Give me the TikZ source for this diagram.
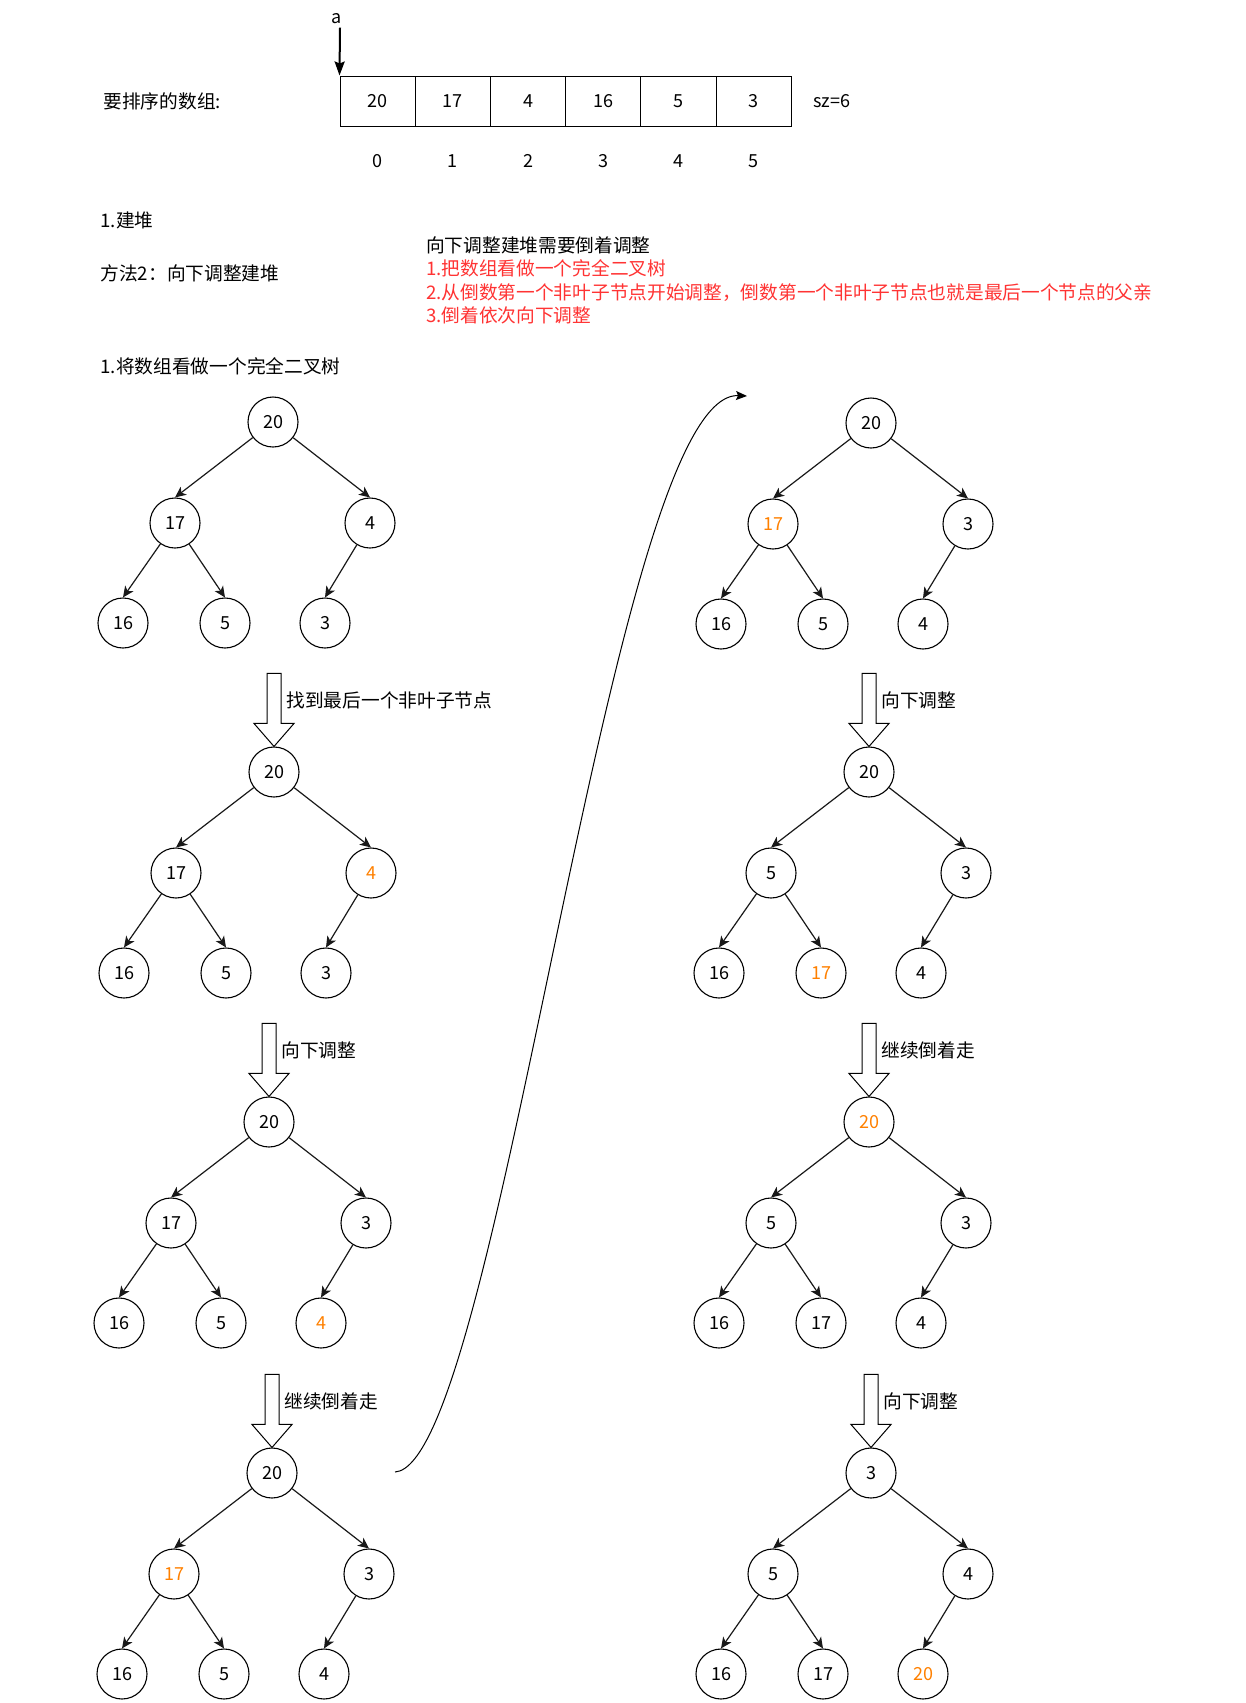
\documentclass[tikz,border=0pt]{standalone}
\usepackage{fontspec}
\setmainfont{Noto Sans CJK SC}
\usepackage{tikz}
\usetikzlibrary{arrows.meta}
\usepackage{xcolor}
\definecolor{hlorange}{HTML}{FF8000}
\definecolor{notered}{HTML}{FF3333}
\newcommand{\hl}[1]{\textcolor{hlorange}{#1}}

\begin{document}
\begin{tikzpicture}[x=1pt, y=-1pt,
    every node/.style={font=\fontsize{18}{22}\selectfont},
    caption/.style={anchor=west, font=\fontsize{18.7}{23}\selectfont},
    heapnode/.style={circle, draw, line width=1.1pt, minimum size=50pt, inner sep=0pt},
    cell/.style={rectangle, draw, line width=1pt, minimum width=75.2pt, minimum height=50pt, inner sep=0pt},
    treeedge/.style={draw=black!90, line width=1.2pt, -{Stealth[length=11pt, width=10pt, inset=3pt]}},
    blockarrow/.style={draw, line width=1pt, fill=white}]
    \useasboundingbox (0,0) rectangle (1246,1703);

    % tablica
    \node[caption] (title) at (100, 101) {要排序的数组:};
    \foreach \v [count=\i from 0] in {20,17,4,16,5,3} {
        \node[cell] (cell\i) at (377.6+75.2*\i, 101) {\v};
        \node (idx\i) at (377.6+75.2*\i, 161) {\i};
    }
    \node[anchor=west] (size) at (810, 101) {sz=6};
    \node (ptr) at (337, 19) {a};
    \draw[line width=2pt, -{Stealth[length=14pt, width=10pt, inset=2pt]}] (ptr.south) ++(3,0) -- (cell0.north west);

    % opisy
    \node[caption] (step) at (97, 220) {1.建堆};
    \node[caption] (method) at (97, 273) {方法2：向下调整建堆};
    \node[anchor=north west, inner sep=0pt, align=left, font=\fontsize{18.7}{23.5}\selectfont] (notes) at (426, 236)
        {向下调整建堆需要倒着调整\\
         \textcolor{notered}{1.把数组看做一个完全二叉树}\\
         \textcolor{notered}{2.从倒数第一个非叶子节点开始调整，倒数第一个非叶子节点也就是最后一个节点的父亲}\\
         \textcolor{notered}{3.倒着依次向下调整}};
    \node[caption] (first) at (97, 366) {1.将数组看做一个完全二叉树};

    % drzewa
    \foreach \t/\x/\y/\va/\vb/\vc/\vd/\ve/\vf in {
        la/273/422/20/17/4/16/5/3,
        lb/274/772/20/17/\hl{4}/16/5/3,
        lc/269/1122/20/17/3/16/5/\hl{4},
        ld/272/1473/20/\hl{17}/3/16/5/4,
        ra/871/423/20/\hl{17}/3/16/5/4,
        rb/869/772/20/5/3/16/\hl{17}/4,
        rc/869/1122/\hl{20}/5/3/16/17/4,
        rd/871/1473/3/5/4/16/17/\hl{20}} {
        \node[heapnode] (\t-root) at (\x, \y) {\va};
        \node[heapnode] (\t-l) at (\x-98, \y+101) {\vb};
        \node[heapnode] (\t-r) at (\x+97, \y+101) {\vc};
        \node[heapnode] (\t-ll) at (\x-150, \y+201) {\vd};
        \node[heapnode] (\t-lr) at (\x-48, \y+201) {\ve};
        \node[heapnode] (\t-rl) at (\x+52, \y+201) {\vf};
        \draw[treeedge] (\t-root) -- (\t-l.north);
        \draw[treeedge] (\t-root) -- (\t-r.north);
        \draw[treeedge] (\t-l) -- (\t-ll.north);
        \draw[treeedge] (\t-l) -- (\t-lr.north);
        \draw[treeedge] (\t-r) -- (\t-rl.north);
    }

    % strzalki miedzy krokami
    \foreach \t/\s in {lb/找到最后一个非叶子节点, lc/向下调整, ld/继续倒着走,
                       rb/向下调整, rc/继续倒着走, rd/向下调整} {
        \draw[blockarrow] ([shift={(-7,-73)}]\t-root.north) -- ++(14,0) -- ++(0,50) -- ++(13,0)
            -- (\t-root.north) -- ++(-20,-23) -- ++(13,0) -- cycle;
        \node[caption] (\t-label) at ([shift={(9,-46)}]\t-root.north) {\s};
    }

    % przejscie do drugiej kolumny
    \coordinate (turn-start) at (395, 1472);
    \coordinate (turn-end) at (747, 396);
    \draw[line width=1pt, -{Stealth[length=11pt, width=9pt, inset=2pt]}]
        (turn-start) .. controls (500, 1465) and (610, 390) .. (turn-end);
\end{tikzpicture}
\end{document}
